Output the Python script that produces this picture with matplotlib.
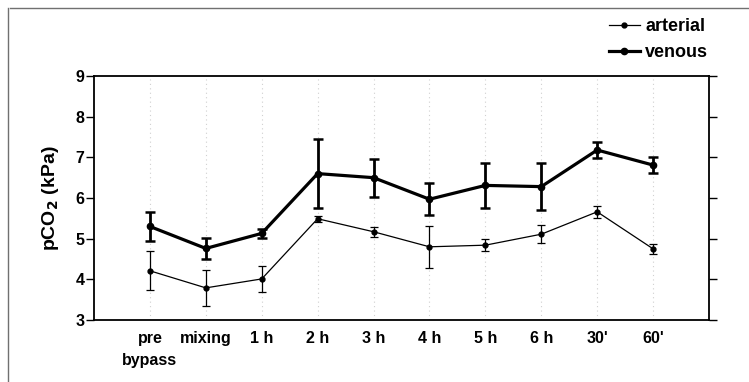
import matplotlib
matplotlib.use("Agg")
import matplotlib.pyplot as plt
from matplotlib.lines import Line2D

categories = ["pre\nbypass", "mixing", "1 h", "2 h", "3 h", "4 h", "5 h", "6 h", "30'", "60'"]
venous = [5.30, 4.76, 5.13, 6.60, 6.50, 5.97, 6.31, 6.28, 7.18, 6.81]
venous_err = [0.35, 0.25, 0.12, 0.84, 0.47, 0.40, 0.55, 0.58, 0.20, 0.20]
arterial = [4.21, 3.79, 4.01, 5.49, 5.17, 4.80, 4.84, 5.11, 5.66, 4.75]
arterial_err = [0.48, 0.44, 0.32, 0.07, 0.12, 0.52, 0.15, 0.22, 0.15, 0.12]
yticks = [3, 4, 5, 6, 7, 8, 9]

plt.rcParams['font.family'] = ['Liberation Sans', 'DejaVu Sans']
plt.rcParams['font.weight'] = 'bold'

fig = plt.figure(figsize=(7.49, 3.82), dpi=100)
ax = fig.add_axes([0.1255, 0.1623, 0.8211, 0.6387])

x = list(range(len(categories)))

for xi in x:
    ax.axvline(xi, color='#d0d0d0', linestyle=(0, (1, 3)), lw=0.8, zorder=0)

ax.errorbar(x, arterial, yerr=arterial_err, color='black', lw=0.9, marker='o',
            markersize=3.5, capsize=3, elinewidth=0.9, capthick=0.9, zorder=3)
ax.errorbar(x, venous, yerr=venous_err, color='black', lw=2.3, marker='o',
            markersize=4.5, capsize=3.5, elinewidth=2.0, capthick=1.8, zorder=3)

ax.set_xlim(-1, 10)
ax.set_ylim(3, 9)
ax.set_yticks(yticks)
ax.set_yticklabels([str(t) for t in yticks], fontsize=11.5, fontweight='bold')
ax.set_xticks(x)
ax.set_xticklabels(categories, fontsize=11.5, fontweight='bold', linespacing=1.6)
ax.tick_params(axis='x', length=0, pad=8)
ax.tick_params(axis='y', direction='out', length=6, width=1.0, right=True,
               labelright=False, pad=1)
for s in ax.spines.values():
    s.set_linewidth(1.3)

ax.set_ylabel("pCO$_\\mathbf{2}$ (kPa)", fontsize=14, fontweight='bold', labelpad=10)

handles = [Line2D([0], [0], color='black', lw=0.9, marker='o', markersize=3.5),
           Line2D([0], [0], color='black', lw=2.3, marker='o', markersize=4.5)]
fig.legend(handles, ['arterial', 'venous'], loc='upper right',
           bbox_to_anchor=(0.967, 0.995), frameon=False, prop={'size': 13, 'weight': 'bold'},
           handlelength=1.7, handletextpad=0.3, labelspacing=0.5)

# scanned-page border lines
fig.add_artist(Line2D([0.013, 1.0], [0.978, 0.978], color='#707070', lw=1.0, transform=fig.transFigure))
fig.add_artist(Line2D([0.0105, 0.0105], [0.0, 0.978], color='#707070', lw=1.0, transform=fig.transFigure))

fig.savefig("out.png", dpi=100)
